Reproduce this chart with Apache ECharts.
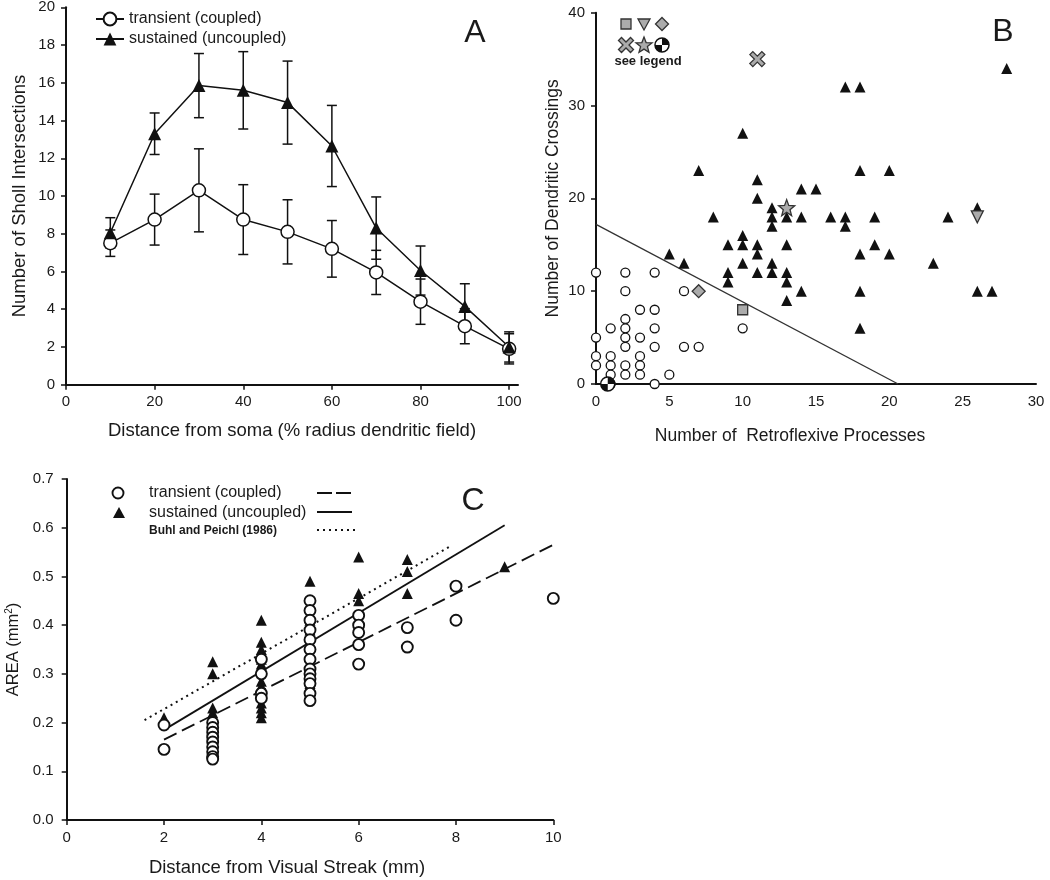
<!DOCTYPE html>
<html><head><meta charset="utf-8">
<script src="https://cdn.jsdelivr.net/npm/echarts@6/dist/echarts.min.js"></script>
<style>html,body{margin:0;padding:0;background:#fff}#c{width:1050px;height:880px}</style>
</head><body><div id="c"></div>
<script>
// ---------- Panel A ----------
const aX = [10,20,30,40,50,60,70,80,90,100];
const aTransient = [7.5,8.75,10.3,8.75,8.1,7.2,5.95,4.4,3.1,1.9];
const aTransientErr = [0.7,1.35,2.2,1.85,1.7,1.5,1.17,1.2,0.93,0.8];
const aSustained = [8.05,13.3,15.85,15.6,14.95,12.65,8.3,6.05,4.15,2.0];
const aSustainedErr = [0.8,1.1,1.7,2.05,2.2,2.15,1.65,1.3,1.2,0.8];
const aXTicks = [0,20,40,60,80,100];

// ---------- Panel B ----------
const bTransient = [[0,12],[2,12],[4,12],[2,10],[6,10],[3,8],[4,8],[2,7],[1,6],[2,6],[4,6],[10,6],
  [0,5],[2,5],[3,5],[2,4],[4,4],[6,4],[7,4],[0,3],[1,3],[3,3],[0,2],[1,2],[2,2],[3,2],
  [1,1],[2,1],[3,1],[5,1],[4,0],[1,0]];
const bSustained = [[7,23],[10,27],[11,22],[11,20],[12,19],[14,21],[15,21],[17,32],[18,32],[18,23],
  [20,23],[26,19],[28,34],[12,18],[12,17],[8,18],[13,18],[14,18],[16,18],[17,18],[17,17],[19,18],
  [24,18],[5,14],[6,13],[9,15],[10,16],[10,15],[11,15],[11,14],[10,13],[12,13],[13,15],[18,14],
  [19,15],[20,14],[23,13],[9,12],[9,11],[11,12],[12,12],[13,12],[13,11],[14,10],[13,9],[18,10],
  [26,10],[27,10],[18,6]];
const bSquare = [[10,8]];
const bDiamond = [[7,10]];
const bInvTriangle = [[26,18]];
const bCross = [[11,35]];
const bStar = [[13,19]];
const bQuartered = [[0.8,0]];
const bBoundary = [[0,17.2],[20.6,0]];

// ---------- Panel C ----------
const cX = [2,3,4,5,6,7,8,9,10];
const cTransientCols = [
  [0.195,0.145],
  [0.2,0.19,0.18,0.17,0.16,0.15,0.14,0.13,0.125],
  [0.33,0.30,0.26,0.25],
  [0.45,0.43,0.41,0.39,0.37,0.35,0.33,0.31,0.30,0.29,0.28,0.26,0.245],
  [0.42,0.40,0.385,0.36,0.32],
  [0.395,0.355],
  [0.48,0.41],
  [],
  [0.455]
];
const cSustainedCols = [
  [0.21],
  [0.325,0.30,0.23,0.22,0.21,0.20,0.19],
  [0.41,0.365,0.35,0.34,0.33,0.32,0.31,0.285,0.275,0.265,0.24,0.23,0.22,0.21],
  [0.49,0.42,0.41,0.40,0.39,0.38,0.29,0.28,0.27],
  [0.54,0.465,0.45,0.41,0.40,0.39],
  [0.535,0.51,0.465],
  [],
  [0.52],
  []
];
const cFitTransient = [[2,0.165],[10,0.565]];
const cFitSustained = [[2,0.185],[9,0.605]];
const cBuhlPeichl = [[1.6,0.205],[7.9,0.563]];

// ---------- helpers ----------
const FONT = '"Liberation Sans", Arial, sans-serif';
const TXT = '#1a1a1a';
const AX = '#111';
function pairs(xs, ys){ return xs.map((x,i)=>[x, ys[i]]); }
function errData(xs, ys, es){ return xs.map((x,i)=>[x, ys[i]-es[i], ys[i]+es[i]]); }
function cols(xs, colsArr){ const out=[]; xs.forEach((x,i)=>colsArr[i].forEach(v=>out.push([x,v]))); return out; }
function starPoints(cx,cy,R,r){ const p=[]; for(let k=0;k<10;k++){const rr=k%2===0?R:r;const a=-Math.PI/2+k*Math.PI/5;p.push([cx+rr*Math.cos(a),cy+rr*Math.sin(a)]);} return p; }
function starPath(){ const p=starPoints(10,10,10,4.2); return 'path://'+p.map((q,i)=>(i?'L':'M')+q[0].toFixed(2)+','+q[1].toFixed(2)).join('')+'Z'; }
const crossUnit = [[0,2],[2,0],[5,3],[8,0],[10,2],[7,5],[10,8],[8,10],[5,7],[2,10],[0,8],[3,5]];
function crossPoints(cx,cy,s){ return crossUnit.map(q=>[cx+(q[0]-5)*s/10, cy+(q[1]-5)*s/10]); }
const crossPath = 'path://'+crossUnit.map((q,i)=>(i?'L':'M')+q[0]+','+q[1]).join('')+'Z';
const GRAY = '#ababab';

function errRender(params, api){
  const x = api.value(0), lo = api.value(1), hi = api.value(2);
  const p0 = api.coord([x, lo]), p1 = api.coord([x, hi]);
  const w = 5, st = {stroke: AX, lineWidth: 1.5};
  return {type:'group', children:[
    {type:'line', shape:{x1:p0[0],y1:p0[1],x2:p1[0],y2:p1[1]}, style:st},
    {type:'line', shape:{x1:p1[0]-w,y1:p1[1],x2:p1[0]+w,y2:p1[1]}, style:st},
    {type:'line', shape:{x1:p0[0]-w,y1:p0[1],x2:p0[0]+w,y2:p0[1]}, style:st}
  ]};
}
function quarterRender(params, api){
  const p = api.coord([api.value(0), api.value(1)]);
  const r = 7;
  return {type:'group', children:[
    {type:'circle', shape:{cx:p[0],cy:p[1],r:r}, style:{fill:'#fff', stroke:AX, lineWidth:1.5}},
    {type:'sector', shape:{cx:p[0],cy:p[1],r0:0,r:r,startAngle:-Math.PI/2,endAngle:0}, style:{fill:AX}},
    {type:'sector', shape:{cx:p[0],cy:p[1],r0:0,r:r,startAngle:Math.PI/2,endAngle:Math.PI}, style:{fill:AX}}
  ]};
}

const axisLineStyle = {show:true, lineStyle:{color:AX, width:2}};
const labelStyle = {color:TXT, fontSize:15, fontFamily:FONT};
const nameStyle = {color:TXT, fontSize:18.5, fontFamily:FONT};

const chart = echarts.init(document.getElementById('c'), null, {renderer:'canvas'});
chart.setOption({
  animation:false,
  backgroundColor:'#fff',
  textStyle:{fontFamily:FONT},
  grid:[
    {left:66, top:7.3, width:452, height:377.4, outerBoundsMode:'none'},
    {left:596, top:12.7, width:440, height:371.3, outerBoundsMode:'none'},
    {left:66.7, top:479, width:486.6, height:341, outerBoundsMode:'none'}
  ],
  xAxis:[
    {gridIndex:0, type:'value', min:0, max:102, interval:20, axisLine:axisLineStyle, splitLine:{show:false},
     axisTick:{show:true, length:5, lineStyle:{color:AX,width:1.5}, customValues:aXTicks},
     axisLabel:Object.assign({margin:10, customValues:aXTicks}, labelStyle),
     name:'Distance from soma (% radius dendritic field)', nameLocation:'middle', nameGap:37, nameTextStyle:nameStyle},
    {gridIndex:1, type:'value', min:0, max:30, interval:5, axisLine:axisLineStyle, splitLine:{show:false},
     axisTick:{show:false}, axisLabel:Object.assign({margin:10}, labelStyle),
     name:'Number of  Retroflexive Processes', nameLocation:'middle', nameGap:43,
     nameTextStyle:Object.assign({fontSize:17.5, padding:[0,52,0,0]}, {color:TXT, fontFamily:FONT})},
    {gridIndex:2, type:'value', min:0, max:10, interval:2, axisLine:axisLineStyle, splitLine:{show:false},
     axisTick:{show:true, length:5, lineStyle:{color:AX,width:1.5}}, axisLabel:Object.assign({margin:10}, labelStyle),
     name:'Distance from Visual Streak (mm)', nameLocation:'middle', nameGap:38,
     nameTextStyle:Object.assign({padding:[0,46,0,0]}, nameStyle)}
  ],
  yAxis:[
    {gridIndex:0, type:'value', min:0, max:20, interval:2, axisLine:axisLineStyle, splitLine:{show:false},
     axisTick:{show:true, length:5, lineStyle:{color:AX,width:1.5}}, axisLabel:Object.assign({margin:11}, labelStyle),
     name:'Number of Sholl Intersections', nameLocation:'middle', nameGap:37, nameTextStyle:nameStyle},
    {gridIndex:1, type:'value', min:0, max:40, interval:10, axisLine:axisLineStyle, splitLine:{show:false},
     axisTick:{show:true, length:5, lineStyle:{color:AX,width:1.5}}, axisLabel:Object.assign({margin:11}, labelStyle),
     name:'Number of Dendritic Crossings', nameLocation:'middle', nameGap:34,
     nameTextStyle:{color:TXT, fontSize:17.5, fontFamily:FONT}},
    {gridIndex:2, type:'value', min:0, max:0.7, interval:0.1, axisLine:axisLineStyle, splitLine:{show:false},
     axisTick:{show:true, length:5, lineStyle:{color:AX,width:1.5}},
     axisLabel:Object.assign({margin:13, formatter:v=>v.toFixed(1)}, labelStyle),
     name:'AREA (mm{s|2})', nameLocation:'middle', nameGap:45,
     nameTextStyle:{color:TXT, fontSize:16.5, fontFamily:FONT, rich:{s:{fontSize:10, verticalAlign:'top', color:TXT, fontFamily:FONT}}}}
  ],
  legend:{
    data:['transient (coupled)','sustained (uncoupled)'],
    left:90, top:6, orient:'vertical', itemWidth:28, itemHeight:16, itemGap:4,
    textStyle:{color:TXT, fontSize:16, fontFamily:FONT}, selectedMode:false
  },
  series:[
    // A
    {type:'custom', xAxisIndex:0, yAxisIndex:0, renderItem:errRender, data:errData(aX,aSustained,aSustainedErr), z:1, encode:{x:0,y:[1,2]}},
    {type:'custom', xAxisIndex:0, yAxisIndex:0, renderItem:errRender, data:errData(aX,aTransient,aTransientErr), z:1, encode:{x:0,y:[1,2]}},
    {name:'transient (coupled)', type:'line', xAxisIndex:0, yAxisIndex:0, data:pairs(aX,aTransient),
     symbol:'circle', symbolSize:13, lineStyle:{color:AX, width:1.5},
     itemStyle:{color:'#fff', borderColor:AX, borderWidth:1.5, opacity:1}, z:3},
    {name:'sustained (uncoupled)', type:'line', xAxisIndex:0, yAxisIndex:0, data:pairs(aX,aSustained),
     symbol:'triangle', symbolSize:13, lineStyle:{color:AX, width:1.5},
     itemStyle:{color:AX, borderColor:AX, borderWidth:0, opacity:1}, z:3},
    // B
    {type:'line', xAxisIndex:1, yAxisIndex:1, data:bBoundary, symbol:'none', lineStyle:{color:'#333', width:1.3}, z:1},
    {type:'scatter', xAxisIndex:1, yAxisIndex:1, data:bTransient, symbol:'circle', symbolSize:9,
     itemStyle:{color:'#fff', borderColor:AX, borderWidth:1.3, opacity:1}, z:2},
    {type:'custom', xAxisIndex:1, yAxisIndex:1, data:bQuartered, renderItem:quarterRender, z:3},
    {type:'scatter', xAxisIndex:1, yAxisIndex:1, data:bSustained, symbol:'triangle', symbolSize:11,
     itemStyle:{color:AX, opacity:1}, z:2},
    {type:'scatter', xAxisIndex:1, yAxisIndex:1, data:bSquare, symbol:'rect', symbolSize:10,
     itemStyle:{color:GRAY, borderColor:'#333', borderWidth:1.3, opacity:1}, z:3},
    {type:'scatter', xAxisIndex:1, yAxisIndex:1, data:bDiamond, symbol:'diamond', symbolSize:13,
     itemStyle:{color:GRAY, borderColor:'#333', borderWidth:1.3, opacity:1}, z:3},
    {type:'scatter', xAxisIndex:1, yAxisIndex:1, data:bInvTriangle, symbol:'triangle', symbolRotate:180, symbolSize:12,
     itemStyle:{color:GRAY, borderColor:'#333', borderWidth:1.3, opacity:1}, z:3},
    {type:'scatter', xAxisIndex:1, yAxisIndex:1, data:bCross, symbol:crossPath, symbolSize:15,
     itemStyle:{color:GRAY, borderColor:'#333', borderWidth:1.3, opacity:1}, z:3},
    {type:'scatter', xAxisIndex:1, yAxisIndex:1, data:bStar, symbol:starPath(), symbolSize:16,
     itemStyle:{color:GRAY, borderColor:'#333', borderWidth:1.3, opacity:1}, z:3},
    // C
    {type:'line', xAxisIndex:2, yAxisIndex:2, data:cBuhlPeichl, symbol:'none', lineStyle:{color:AX, width:2, type:[2,4]}, z:1},
    {type:'line', xAxisIndex:2, yAxisIndex:2, data:cFitSustained, symbol:'none', lineStyle:{color:AX, width:1.8}, z:1},
    {type:'line', xAxisIndex:2, yAxisIndex:2, data:cFitTransient, symbol:'none', lineStyle:{color:AX, width:1.8, type:[14,6]}, z:1},
    {type:'scatter', xAxisIndex:2, yAxisIndex:2, data:cols(cX,cSustainedCols), symbol:'triangle', symbolSize:11,
     itemStyle:{color:AX, opacity:1}, z:2},
    {type:'scatter', xAxisIndex:2, yAxisIndex:2, data:cols(cX,cTransientCols), symbol:'circle', symbolSize:11,
     itemStyle:{color:'#fff', borderColor:AX, borderWidth:1.9, opacity:1}, z:2}
  ],
  graphic:[
    {type:'text', x:475, y:33, style:{text:'A', font:'32px '+FONT, fill:TXT, align:'center', verticalAlign:'middle'}},
    {type:'text', x:1003, y:32, style:{text:'B', font:'32px '+FONT, fill:TXT, align:'center', verticalAlign:'middle'}},
    {type:'text', x:473, y:501, style:{text:'C', font:'32px '+FONT, fill:TXT, align:'center', verticalAlign:'middle'}},
    // B key glyphs
    {type:'rect', shape:{x:621,y:19,width:10,height:10}, style:{fill:GRAY, stroke:'#333', lineWidth:1.3}},
    {type:'polygon', shape:{points:[[638,19],[650,19],[644,30]]}, style:{fill:GRAY, stroke:'#333', lineWidth:1.3}},
    {type:'polygon', shape:{points:[[662,17.5],[668.5,24],[662,30.5],[655.5,24]]}, style:{fill:GRAY, stroke:'#333', lineWidth:1.3}},
    {type:'polygon', shape:{points:crossPoints(626,45,15)}, style:{fill:GRAY, stroke:'#333', lineWidth:1.3}},
    {type:'polygon', shape:{points:starPoints(644,45.5,8.5,3.6)}, style:{fill:GRAY, stroke:'#333', lineWidth:1.3}},
    {type:'circle', shape:{cx:662,cy:45,r:7}, style:{fill:'#fff', stroke:AX, lineWidth:1.5}},
    {type:'sector', shape:{cx:662,cy:45,r0:0,r:7,startAngle:-Math.PI/2,endAngle:0}, style:{fill:AX}},
    {type:'sector', shape:{cx:662,cy:45,r0:0,r:7,startAngle:Math.PI/2,endAngle:Math.PI}, style:{fill:AX}},
    {type:'text', x:648, y:61, style:{text:'see legend', font:'bold 13px '+FONT, fill:TXT, align:'center', verticalAlign:'middle'}},
    // C key
    {type:'circle', shape:{cx:118,cy:493,r:5.5}, style:{fill:'#fff', stroke:AX, lineWidth:1.9}},
    {type:'polygon', shape:{points:[[119,507],[113,518],[125,518]]}, style:{fill:AX}},
    {type:'text', x:149, y:493, style:{text:'transient (coupled)', font:'16px '+FONT, fill:TXT, verticalAlign:'middle'}},
    {type:'text', x:149, y:513, style:{text:'sustained (uncoupled)', font:'16px '+FONT, fill:TXT, verticalAlign:'middle'}},
    {type:'text', x:149, y:531, style:{text:'Buhl and Peichl (1986)', font:'bold 12px '+FONT, fill:TXT, verticalAlign:'middle'}},
    {type:'line', shape:{x1:317,y1:493,x2:352,y2:493}, style:{stroke:AX, lineWidth:1.8, lineDash:[15,4]}},
    {type:'line', shape:{x1:317,y1:512,x2:352,y2:512}, style:{stroke:AX, lineWidth:1.8}},
    {type:'line', shape:{x1:317,y1:530,x2:356,y2:530}, style:{stroke:AX, lineWidth:2, lineDash:[2,4]}}
  ]
});
</script></body></html>
